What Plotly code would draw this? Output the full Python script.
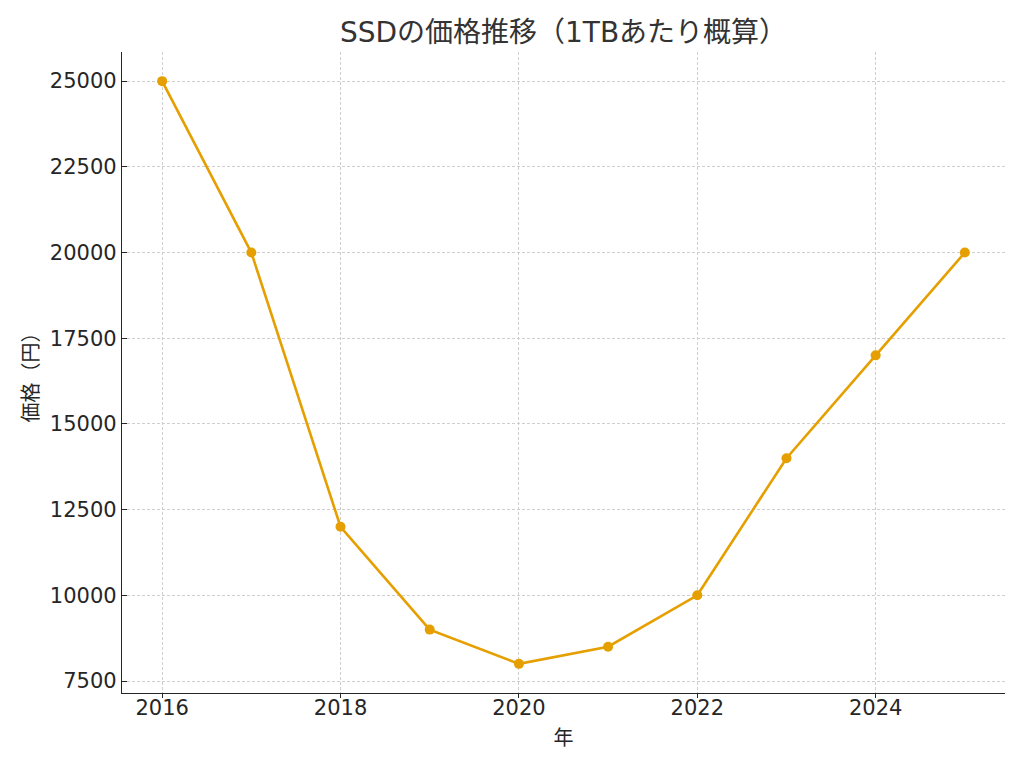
import plotly.graph_objects as go

years = [2016, 2017, 2018, 2019, 2020, 2021, 2022, 2023, 2024, 2025]
prices = [25000, 20000, 12000, 9000, 8000, 8500, 10000, 14000, 17000, 20000]
x_ticks = [2016, 2018, 2020, 2022, 2024]
y_ticks = [7500, 10000, 12500, 15000, 17500, 20000, 22500, 25000]

title_text = "SSDの価格推移（1TBあたり概算）"
x_title = "年"
y_title = "価格（円）"

font_fam = "DejaVu Sans, Noto Sans CJK JP, sans-serif"

W, H = 1008, 752  # page has an 8px body margin

fig = go.Figure()
fig.add_trace(go.Scatter(
    x=years, y=prices, mode="lines+markers",
    line=dict(color="#E69F00", width=2.6),
    marker=dict(color="#E69F00", size=10),
    showlegend=False,
))

axis_common = dict(
    showline=True, linecolor="#262626", linewidth=1.3,
    tickwidth=1.2, tickcolor="#262626",
    showgrid=True, gridcolor="#cfcfcf", griddash="3px,2px", gridwidth=1,
    zeroline=False, mirror=False,
    tickfont=dict(size=21, color="#262626", family=font_fam),
    automargin=False,
)

fig.update_layout(
    width=W, height=H,
    paper_bgcolor="white", plot_bgcolor="white",
    margin=dict(l=114, r=11, t=44, b=67),
    font=dict(family=font_fam),
    title=dict(text=title_text, x=555.5 / W, xanchor="center",
               y=1 - 24 / H, yanchor="middle",
               font=dict(size=28, color="#333333", family=font_fam)),
    xaxis=dict(axis_common, range=[2015.55, 2025.45], tickvals=x_ticks,
               ticktext=[str(v) for v in x_ticks],
               ticks="outside", ticklen=4, ticklabelstandoff=-8,
               title=dict(text=x_title, font=dict(size=20, color="#262626"), standoff=11)),
    yaxis=dict(axis_common, range=[7150, 25850], tickvals=y_ticks,
               ticktext=[str(v) for v in y_ticks],
               ticks="inside", ticklen=5,
               title=dict(text=y_title, font=dict(size=20, color="#262626"), standoff=5)),
)

fig.write_html("out.html")
